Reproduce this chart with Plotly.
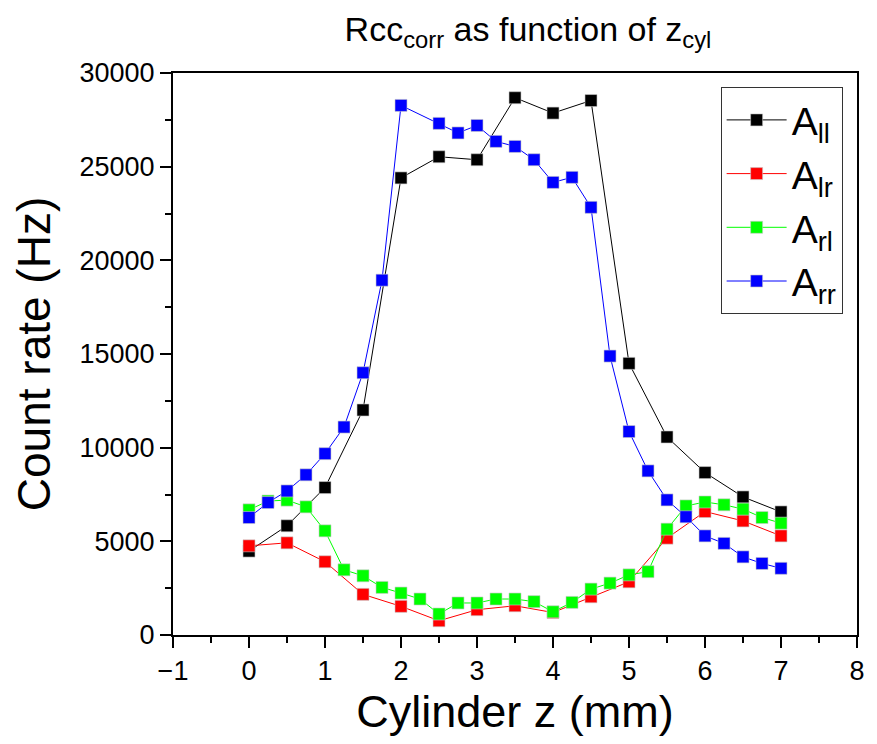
import plotly.graph_objects as go

x_half = [0, 0.5, 1, 1.5, 2, 2.5, 3, 3.5, 4, 4.5, 5, 5.5, 6, 6.5, 7]
x_quarter = [0, 0.25, 0.5, 0.75, 1, 1.25, 1.5, 1.75, 2, 2.25, 2.5, 2.75, 3, 3.25, 3.5,
             3.75, 4, 4.25, 4.5, 4.75, 5, 5.25, 5.5, 5.75, 6, 6.25, 6.5, 6.75, 7]
x_rr = [0, 0.25, 0.5, 0.75, 1, 1.25, 1.5, 1.75, 2, 2.5, 2.75, 3, 3.25, 3.5,
        3.75, 4, 4.25, 4.5, 4.75, 5, 5.25, 5.5, 5.75, 6, 6.25, 6.5, 6.75, 7]

A_ll = [4480, 5830, 7870, 12010, 24400, 25530, 25370, 28680, 27860, 28530,
        14500, 10570, 8670, 7370, 6570]
A_lr = [4760, 4920, 3910, 2170, 1530, 760, 1350, 1560, 1200, 2040,
        2840, 5170, 6590, 6090, 5290]
A_rl = [6680, 7150, 7200, 6840, 5560, 3480, 3160, 2540, 2240, 1920, 1120, 1710, 1710,
        1920, 1920, 1780, 1240, 1740, 2450, 2770, 3210, 3380, 5650, 6890, 7100,
        6950, 6720, 6270, 5970]
A_rr = [6270, 7070, 7690, 8550, 9680, 11100, 14000, 18940, 28270, 27310, 26800,
        27200, 26350, 26080, 25370, 24160, 24430, 22830, 14890, 10860, 8760,
        7210, 6310, 5290, 4890, 4170, 3820, 3560]

series = [
    ("A<sub>ll</sub>", x_half, A_ll, "#000000"),
    ("A<sub>lr</sub>", x_half, A_lr, "#ff0000"),
    ("A<sub>rl</sub>", x_quarter, A_rl, "#00ff00"),
    ("A<sub>rr</sub>", x_rr, A_rr, "#0000ff"),
]

fig = go.Figure()
for name, xs, ys, col in series:
    fig.add_trace(go.Scatter(
        x=xs, y=ys, name=name, mode="lines+markers",
        line=dict(color=col, width=1),
        marker=dict(symbol="square", size=12, color=col,
                    line=dict(color="rgba(200,200,200,0.6)", width=1)),
    ))

font_main = "Liberation Sans, Arial, sans-serif"

fig.update_layout(
    width=877, height=744,
    margin=dict(l=173, r=13, t=73, b=109),
    paper_bgcolor="white", plot_bgcolor="white",
    title=dict(text="Rcc<sub>corr</sub> as function of z<sub>cyl</sub>",
               x=528 / 877, xanchor="center", xref="container",
               y=1 - 29 / 744, yanchor="middle", yref="container",
               font=dict(family=font_main, size=34, color="black")),
    showlegend=True,
    legend=dict(x=0.979, y=0.975, xanchor="right", yanchor="top",
                bgcolor="white", bordercolor="#333333", borderwidth=1,
                font=dict(family=font_main, size=39, color="black"),
                itemwidth=60, tracegroupgap=0,
                itemsizing="trace"),
)

fig.update_xaxes(
    range=[-1, 8], tickmode="linear", tick0=-1, dtick=1,
    ticks="outside", ticklen=11, tickwidth=2, tickcolor="black",
    minor=dict(dtick=0.5, ticks="outside", ticklen=6, tickwidth=2, tickcolor="black"),
    showline=True, linewidth=2, linecolor="black", mirror=True,
    showgrid=False, zeroline=False,
    tickfont=dict(family=font_main, size=27, color="black"),
    title=dict(text="Cylinder z (mm)", font=dict(family=font_main, size=45, color="black"),
               standoff=8),
)
fig.update_yaxes(
    range=[0, 30000], tickmode="linear", tick0=0, dtick=5000, tickformat="d",
    ticks="outside", ticklen=11, tickwidth=2, tickcolor="black",
    minor=dict(dtick=2500, ticks="outside", ticklen=6, tickwidth=2, tickcolor="black"),
    showline=True, linewidth=2, linecolor="black", mirror=True,
    showgrid=False, zeroline=False,
    tickfont=dict(family=font_main, size=27, color="black"),
    title=dict(text="Count rate (Hz)", font=dict(family=font_main, size=46, color="black"),
               standoff=14),
)

fig.write_html("out.html", config={"displayModeBar": False},
               post_script="document.body.style.margin='0';document.body.style.overflow='hidden';")
